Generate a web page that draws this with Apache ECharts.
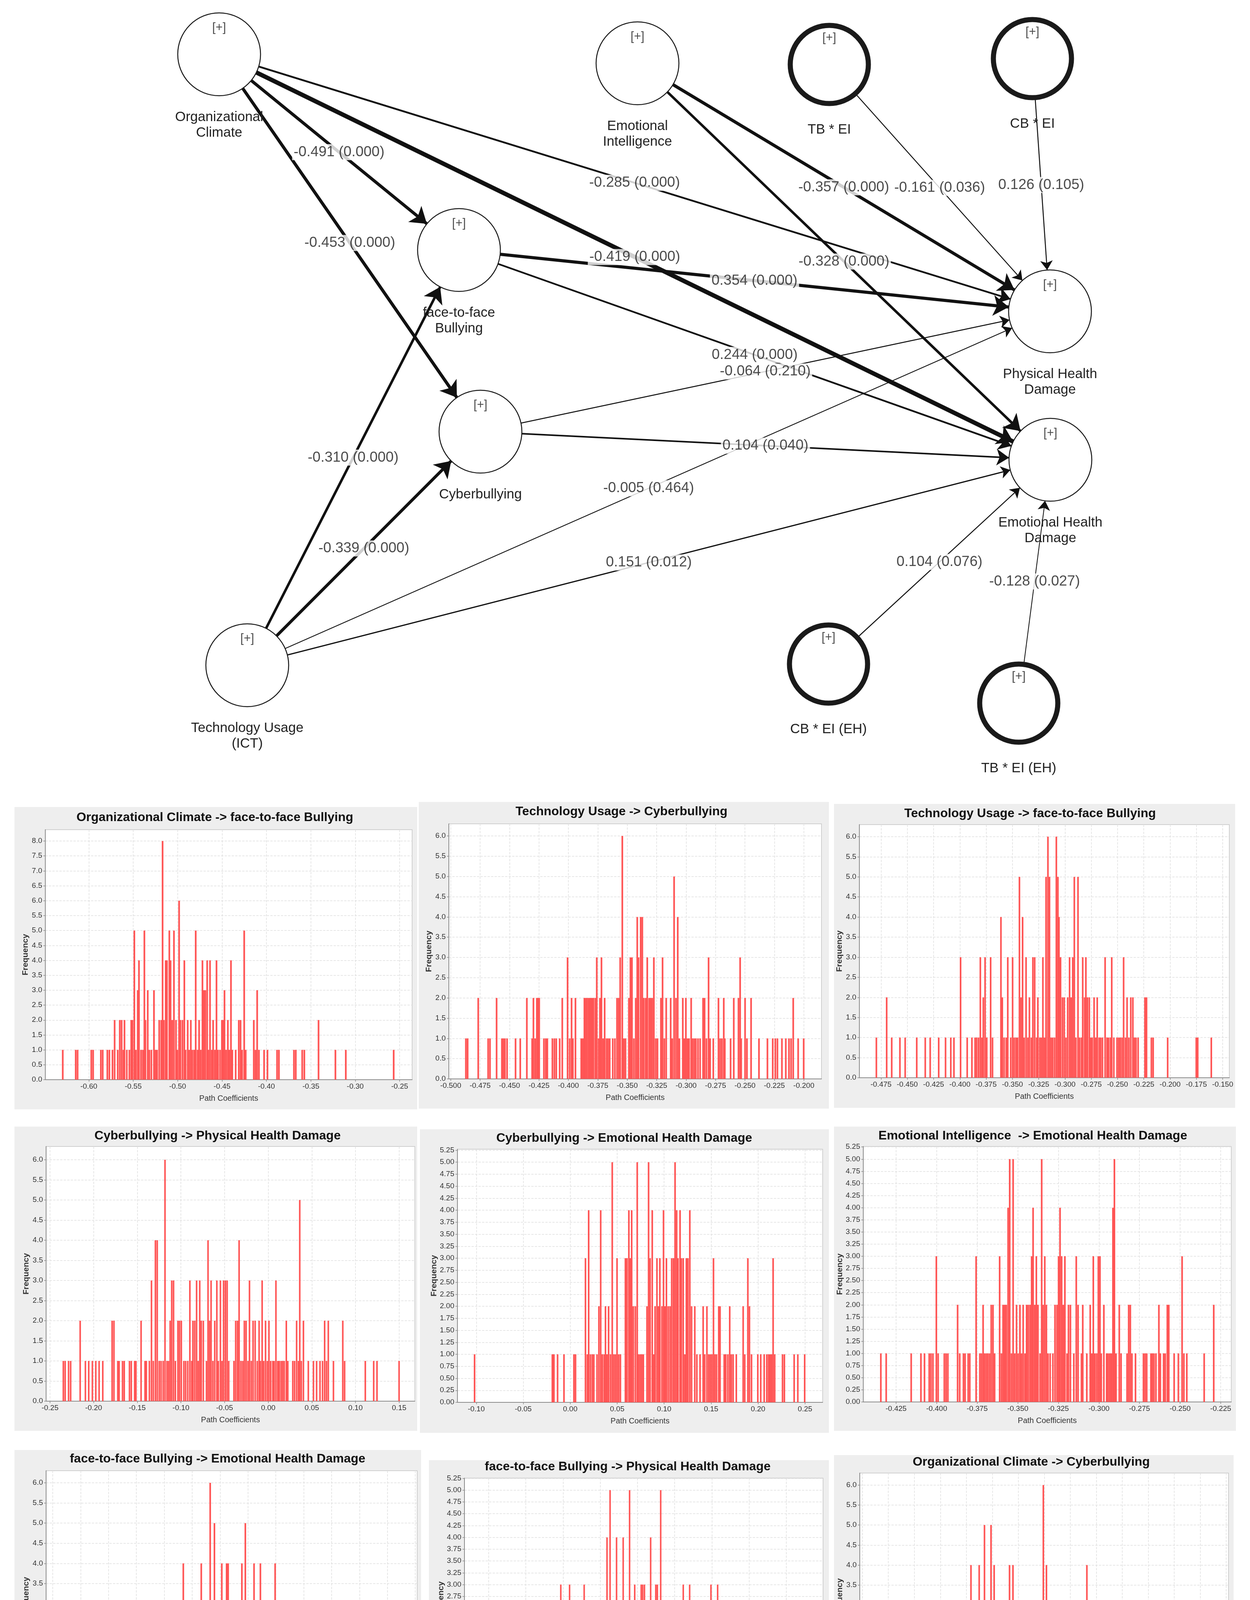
<!DOCTYPE html>
<html><head><meta charset="utf-8">
<script src="https://cdn.jsdelivr.net/npm/echarts@6/dist/echarts.min.js"></script>
<style>html,body{margin:0;padding:0;background:#fff}#c{width:3200px;height:4530px}</style>
</head><body><div id="c"></div>
<script>
// ================= PATH DIAGRAM DATA =================
const nodeNames = ['Organizational\nClimate','Emotional\nIntelligence','TB * EI','CB * EI','face-to-face\nBullying','Cyberbullying','Physical Health\nDamage','Emotional Health\nDamage','Technology Usage\n(ICT)','CB * EI (EH)','TB * EI (EH)'];
const nodeX = [561, 1632, 2123, 2643, 1175, 1230, 2688, 2689, 633, 2121, 2608];
const nodeY = [139, 162, 165, 150, 640, 1105, 797, 1177, 1703, 1700, 1800];
const nodeModerator = [false, false, true, true, false, false, false, false, false, true, true];

const edgeFrom = [0, 0, 0, 0, 1, 1, 2, 3, 4, 4, 5, 5, 8, 8, 8, 8, 9, 10];
const edgeTo   = [4, 5, 6, 7, 6, 7, 6, 6, 6, 7, 6, 7, 4, 5, 6, 7, 7, 7];
const edgeCoef = [-0.491, -0.453, -0.285, -0.419, -0.357, -0.328, -0.161, 0.126, 0.354, 0.244, -0.064, 0.104, -0.310, -0.339, -0.005, 0.151, 0.104, -0.128];
const edgeP    = [0.000, 0.000, 0.000, 0.000, 0.000, 0.000, 0.036, 0.105, 0.000, 0.000, 0.210, 0.040, 0.000, 0.000, 0.464, 0.012, 0.076, 0.027];
const edgeWidth = [8, 8, 4.5, 11, 8, 6.5, 2.5, 2.5, 8, 4.5, 2.5, 4, 6.5, 7.5, 2, 3, 2.5, 2];

// ================= HISTOGRAM DATA =================
const histTitles = [
  'Organizational Climate -> face-to-face Bullying',
  'Technology Usage -> Cyberbullying',
  'Technology Usage -> face-to-face Bullying',
  'Cyberbullying -> Physical Health Damage',
  'Cyberbullying -> Emotional Health Damage',
  'Emotional Intelligence  -> Emotional Health Damage',
  'face-to-face Bullying -> Emotional Health Damage',
  'face-to-face Bullying -> Physical Health Damage',
  'Organizational Climate -> Cyberbullying'
];

const hist1 = [[-0.6292,1],[-0.6146,1],[-0.6125,1],[-0.5971,1],[-0.5950,1],[-0.5863,1],[-0.5842,1],[-0.5790,1],[-0.5767,1],[-0.5732,1],[-0.5708,2],[-0.5673,1],[-0.5650,2],[-0.5629,2],[-0.5609,1],[-0.5597,2],[-0.5571,1],[-0.5542,1],[-0.5521,2],[-0.5507,2],[-0.5486,5],[-0.5469,1],[-0.5448,3],[-0.5434,4],[-0.5411,1],[-0.5390,1],[-0.5373,5],[-0.5361,2],[-0.5335,3],[-0.5317,1],[-0.5294,1],[-0.5265,3],[-0.5247,1],[-0.5230,1],[-0.5206,2],[-0.5183,2],[-0.5168,8],[-0.5154,2],[-0.5133,4],[-0.5119,4],[-0.5092,5],[-0.5078,4],[-0.5060,2],[-0.5040,5],[-0.5017,2],[-0.5002,1],[-0.4982,6],[-0.4967,2],[-0.4944,2],[-0.4923,4],[-0.4909,1],[-0.4885,2],[-0.4868,1],[-0.4850,2],[-0.4833,1],[-0.4812,1],[-0.4795,5],[-0.4774,1],[-0.4757,2],[-0.4739,1],[-0.4719,4],[-0.4704,3],[-0.4687,3],[-0.4666,4],[-0.4652,1],[-0.4634,4],[-0.4614,1],[-0.4599,2],[-0.4579,1],[-0.4561,4],[-0.4544,1],[-0.4521,1],[-0.4500,2],[-0.4486,2],[-0.4471,3],[-0.4453,1],[-0.4433,2],[-0.4416,1],[-0.4398,4],[-0.4383,1],[-0.4345,1],[-0.4310,2],[-0.4290,2],[-0.4273,1],[-0.4249,5],[-0.4232,1],[-0.4141,2],[-0.4121,1],[-0.4103,3],[-0.4083,1],[-0.4025,1],[-0.3987,1],[-0.3879,1],[-0.3858,1],[-0.3689,1],[-0.3668,1],[-0.3596,1],[-0.3572,1],[-0.3412,2],[-0.3222,1],[-0.3105,1],[-0.2566,1]];

const hist2 = [[-0.4870,1],[-0.4855,1],[-0.4765,2],[-0.4681,1],[-0.4665,1],[-0.4609,2],[-0.4564,1],[-0.4551,1],[-0.4538,1],[-0.4520,1],[-0.4448,1],[-0.4408,1],[-0.4352,2],[-0.4307,1],[-0.4296,2],[-0.4281,1],[-0.4267,2],[-0.4256,2],[-0.4247,2],[-0.4207,1],[-0.4191,1],[-0.4178,1],[-0.4135,1],[-0.4118,1],[-0.4102,1],[-0.4073,1],[-0.4051,2],[-0.4006,3],[-0.3988,1],[-0.3972,2],[-0.3961,1],[-0.3939,2],[-0.3890,1],[-0.3876,1],[-0.3863,2],[-0.3854,2],[-0.3841,2],[-0.3827,2],[-0.3814,2],[-0.3800,2],[-0.3787,2],[-0.3771,2],[-0.3758,3],[-0.3742,1],[-0.3731,2],[-0.3718,3],[-0.3704,1],[-0.3691,2],[-0.3675,1],[-0.3662,1],[-0.3648,1],[-0.3622,1],[-0.3604,1],[-0.3586,2],[-0.3572,2],[-0.3559,3],[-0.3541,6],[-0.3528,1],[-0.3514,1],[-0.3485,2],[-0.3472,3],[-0.3459,3],[-0.3443,1],[-0.3427,2],[-0.3414,4],[-0.3403,3],[-0.3385,4],[-0.3371,4],[-0.3358,2],[-0.3342,2],[-0.3329,3],[-0.3313,2],[-0.3300,2],[-0.3287,2],[-0.3273,3],[-0.3257,1],[-0.3242,1],[-0.3213,2],[-0.3199,3],[-0.3184,1],[-0.3168,2],[-0.3130,2],[-0.3117,1],[-0.3101,5],[-0.3085,2],[-0.3070,4],[-0.3056,1],[-0.3027,2],[-0.3014,1],[-0.3001,2],[-0.2987,1],[-0.2974,1],[-0.2956,2],[-0.2943,1],[-0.2929,1],[-0.2916,1],[-0.2898,1],[-0.2880,1],[-0.2855,2],[-0.2842,2],[-0.2826,1],[-0.2808,3],[-0.2795,1],[-0.2768,1],[-0.2724,2],[-0.2710,1],[-0.2695,1],[-0.2679,2],[-0.2670,1],[-0.2621,1],[-0.2594,2],[-0.2554,2],[-0.2540,3],[-0.2531,1],[-0.2498,2],[-0.2482,1],[-0.2447,2],[-0.2380,1],[-0.2308,1],[-0.2263,1],[-0.2241,1],[-0.2223,1],[-0.2185,1],[-0.2152,1],[-0.2125,1],[-0.2107,1],[-0.2089,2],[-0.2047,1],[-0.2000,1]];

const hist3 = [[-0.4793,1],[-0.4695,2],[-0.4647,1],[-0.4569,1],[-0.4519,1],[-0.4409,1],[-0.4328,1],[-0.4281,1],[-0.4200,1],[-0.4135,1],[-0.4085,1],[-0.4055,1],[-0.3992,3],[-0.3929,1],[-0.3884,1],[-0.3854,1],[-0.3839,1],[-0.3821,1],[-0.3804,3],[-0.3789,1],[-0.3776,2],[-0.3759,3],[-0.3743,1],[-0.3706,3],[-0.3688,1],[-0.3608,4],[-0.3595,2],[-0.3578,1],[-0.3558,1],[-0.3543,3],[-0.3515,1],[-0.3497,3],[-0.3482,1],[-0.3465,1],[-0.3450,1],[-0.3432,5],[-0.3417,2],[-0.3402,4],[-0.3387,1],[-0.3369,3],[-0.3352,1],[-0.3337,2],[-0.3319,1],[-0.3304,3],[-0.3287,3],[-0.3269,1],[-0.3257,2],[-0.3239,1],[-0.3224,1],[-0.3209,3],[-0.3194,1],[-0.3179,5],[-0.3161,6],[-0.3146,5],[-0.3131,1],[-0.3116,1],[-0.3098,1],[-0.3081,6],[-0.3066,5],[-0.3056,4],[-0.3041,3],[-0.3023,2],[-0.3006,2],[-0.2990,1],[-0.2973,2],[-0.2955,3],[-0.2940,2],[-0.2925,3],[-0.2910,5],[-0.2895,1],[-0.2875,5],[-0.2860,1],[-0.2842,1],[-0.2830,3],[-0.2812,2],[-0.2800,3],[-0.2785,2],[-0.2767,2],[-0.2755,1],[-0.2740,1],[-0.2722,2],[-0.2707,1],[-0.2692,2],[-0.2674,1],[-0.2659,1],[-0.2642,1],[-0.2617,3],[-0.2599,1],[-0.2584,1],[-0.2566,1],[-0.2554,3],[-0.2534,1],[-0.2504,1],[-0.2488,1],[-0.2473,1],[-0.2456,1],[-0.2441,3],[-0.2423,1],[-0.2408,2],[-0.2391,1],[-0.2373,2],[-0.2353,2],[-0.2338,1],[-0.2323,1],[-0.2303,1],[-0.2238,2],[-0.2223,2],[-0.2177,1],[-0.2160,1],[-0.2022,1],[-0.1750,1],[-0.1736,1],[-0.1607,1]];

const hist4 = [[-0.2346,1],[-0.2325,1],[-0.2286,1],[-0.2262,1],[-0.2153,2],[-0.2093,1],[-0.2055,1],[-0.2013,1],[-0.1974,1],[-0.1936,1],[-0.1894,1],[-0.1787,2],[-0.1766,2],[-0.1722,1],[-0.1707,1],[-0.1668,1],[-0.1648,1],[-0.1588,1],[-0.1567,1],[-0.1529,1],[-0.1514,1],[-0.1455,2],[-0.1410,1],[-0.1395,1],[-0.1360,1],[-0.1336,3],[-0.1315,1],[-0.1291,4],[-0.1270,4],[-0.1247,1],[-0.1226,1],[-0.1202,1],[-0.1181,6],[-0.1158,1],[-0.1140,1],[-0.1122,2],[-0.1104,3],[-0.1083,3],[-0.1062,1],[-0.1033,2],[-0.1015,2],[-0.0994,2],[-0.0965,1],[-0.0944,1],[-0.0920,1],[-0.0896,3],[-0.0875,1],[-0.0861,2],[-0.0840,2],[-0.0819,3],[-0.0801,1],[-0.0783,3],[-0.0766,2],[-0.0742,2],[-0.0706,1],[-0.0688,4],[-0.0670,2],[-0.0653,3],[-0.0632,1],[-0.0611,2],[-0.0587,3],[-0.0570,1],[-0.0546,3],[-0.0528,1],[-0.0510,3],[-0.0489,3],[-0.0469,3],[-0.0451,1],[-0.0391,1],[-0.0371,2],[-0.0350,2],[-0.0332,4],[-0.0311,1],[-0.0290,1],[-0.0272,2],[-0.0252,2],[-0.0231,1],[-0.0213,3],[-0.0192,1],[-0.0172,2],[-0.0148,2],[-0.0124,1],[-0.0103,2],[-0.0088,1],[-0.0068,3],[-0.0050,1],[-0.0029,2],[-0.0008,1],[0.0010,2],[0.0030,1],[0.0054,1],[0.0069,1],[0.0090,3],[0.0111,1],[0.0128,1],[0.0149,1],[0.0167,1],[0.0185,1],[0.0209,2],[0.0226,1],[0.0283,1],[0.0304,1],[0.0327,2],[0.0348,1],[0.0363,5],[0.0381,1],[0.0405,2],[0.0461,1],[0.0520,1],[0.0556,1],[0.0595,1],[0.0624,1],[0.0648,2],[0.0669,1],[0.0690,2],[0.0749,1],[0.0856,2],[0.0877,1],[0.1114,1],[0.1210,1],[0.1248,1],[0.1501,1]];

const hist5 = [[-0.1017,1],[-0.0189,1],[-0.0172,1],[-0.0133,1],[-0.0065,1],[0.0041,1],[0.0058,1],[0.0164,3],[0.0184,1],[0.0198,4],[0.0217,1],[0.0237,1],[0.0253,1],[0.0287,1],[0.0307,2],[0.0326,4],[0.0343,1],[0.0363,1],[0.0377,2],[0.0393,1],[0.0410,2],[0.0430,1],[0.0449,5],[0.0466,1],[0.0483,1],[0.0500,3],[0.0517,1],[0.0536,1],[0.0589,3],[0.0606,3],[0.0626,4],[0.0642,3],[0.0656,4],[0.0673,2],[0.0695,2],[0.0715,5],[0.0729,1],[0.0746,1],[0.0763,1],[0.0780,1],[0.0819,2],[0.0836,5],[0.0852,3],[0.0875,4],[0.0889,1],[0.0905,2],[0.0925,3],[0.0942,2],[0.0956,3],[0.0978,2],[0.0995,4],[0.1009,2],[0.1026,3],[0.1045,2],[0.1065,2],[0.1082,3],[0.1101,3],[0.1118,5],[0.1135,4],[0.1149,3],[0.1171,4],[0.1185,3],[0.1205,3],[0.1222,1],[0.1238,3],[0.1255,3],[0.1275,4],[0.1294,2],[0.1328,2],[0.1350,1],[0.1384,1],[0.1417,2],[0.1434,1],[0.1457,2],[0.1476,1],[0.1493,1],[0.1510,1],[0.1527,3],[0.1543,1],[0.1560,1],[0.1583,2],[0.1597,2],[0.1641,1],[0.1658,1],[0.1680,1],[0.1700,2],[0.1717,1],[0.1736,1],[0.1770,1],[0.1843,2],[0.1860,1],[0.1893,3],[0.1910,2],[0.1932,1],[0.1999,1],[0.2030,1],[0.2067,1],[0.2095,1],[0.2114,1],[0.2128,1],[0.2145,1],[0.2162,3],[0.2179,1],[0.2262,1],[0.2282,1],[0.2386,1],[0.2425,1],[0.2498,1]];

const hist6 = [[-0.4343,1],[-0.4310,1],[-0.4156,1],[-0.4096,1],[-0.4074,1],[-0.4045,1],[-0.4034,1],[-0.4022,1],[-0.4001,3],[-0.3990,1],[-0.3952,1],[-0.3941,1],[-0.3930,1],[-0.3870,2],[-0.3857,1],[-0.3834,1],[-0.3824,1],[-0.3805,1],[-0.3795,1],[-0.3756,3],[-0.3733,1],[-0.3723,1],[-0.3713,2],[-0.3704,1],[-0.3694,1],[-0.3684,1],[-0.3673,1],[-0.3663,2],[-0.3652,2],[-0.3642,1],[-0.3611,3],[-0.3600,1],[-0.3590,2],[-0.3580,2],[-0.3570,2],[-0.3559,4],[-0.3549,5],[-0.3538,1],[-0.3528,5],[-0.3518,1],[-0.3507,2],[-0.3497,1],[-0.3486,2],[-0.3476,1],[-0.3466,2],[-0.3455,1],[-0.3445,2],[-0.3435,2],[-0.3424,2],[-0.3414,3],[-0.3405,4],[-0.3395,2],[-0.3385,3],[-0.3375,2],[-0.3362,1],[-0.3352,5],[-0.3343,2],[-0.3333,3],[-0.3323,2],[-0.3313,1],[-0.3300,1],[-0.3283,1],[-0.3270,2],[-0.3258,2],[-0.3248,3],[-0.3239,4],[-0.3229,3],[-0.3219,2],[-0.3209,3],[-0.3196,1],[-0.3187,2],[-0.3175,2],[-0.3154,1],[-0.3139,3],[-0.3128,2],[-0.3107,1],[-0.3099,2],[-0.3074,1],[-0.3053,2],[-0.3043,1],[-0.3034,3],[-0.3024,1],[-0.3013,1],[-0.3003,3],[-0.2993,3],[-0.2985,1],[-0.2969,2],[-0.2952,1],[-0.2943,1],[-0.2933,1],[-0.2923,1],[-0.2913,4],[-0.2904,5],[-0.2894,1],[-0.2874,2],[-0.2863,1],[-0.2826,1],[-0.2816,2],[-0.2806,2],[-0.2796,1],[-0.2774,1],[-0.2725,1],[-0.2715,1],[-0.2705,1],[-0.2679,1],[-0.2670,1],[-0.2660,1],[-0.2648,1],[-0.2630,2],[-0.2621,1],[-0.2601,1],[-0.2591,1],[-0.2578,2],[-0.2569,2],[-0.2536,1],[-0.2510,1],[-0.2487,3],[-0.2476,1],[-0.2458,1],[-0.2351,1],[-0.2292,2]];

const hist7 = [[0.0849,1],[0.1122,1],[0.1207,1],[0.1223,1],[0.1306,1],[0.1318,2],[0.1389,1],[0.1406,2],[0.1420,1],[0.1436,1],[0.1453,1],[0.1496,1],[0.1531,1],[0.1543,2],[0.1560,1],[0.1571,1],[0.1619,1],[0.1633,2],[0.1649,1],[0.1709,1],[0.1756,1],[0.1768,2],[0.1784,3],[0.1799,2],[0.1815,1],[0.1860,1],[0.1874,2],[0.1889,1],[0.1905,1],[0.1922,4],[0.1936,1],[0.1955,1],[0.1969,1],[0.1993,1],[0.2007,1],[0.2021,1],[0.2035,1],[0.2052,2],[0.2068,1],[0.2083,4],[0.2099,2],[0.2111,1],[0.2125,1],[0.2139,1],[0.2149,1],[0.2163,6],[0.2173,3],[0.2187,3],[0.2201,5],[0.2220,1],[0.2239,1],[0.2267,4],[0.2281,2],[0.2296,1],[0.2310,4],[0.2324,4],[0.2338,2],[0.2352,2],[0.2367,1],[0.2381,2],[0.2395,2],[0.2409,3],[0.2423,3],[0.2438,3],[0.2447,4],[0.2461,2],[0.2478,5],[0.2490,2],[0.2506,1],[0.2520,2],[0.2537,1],[0.2556,4],[0.2570,2],[0.2584,2],[0.2599,1],[0.2613,4],[0.2627,3],[0.2644,2],[0.2658,3],[0.2672,1],[0.2686,1],[0.2703,1],[0.2717,2],[0.2731,2],[0.2745,4],[0.2760,1],[0.2774,1],[0.2797,3],[0.2814,1],[0.2828,1],[0.2845,2],[0.2876,1],[0.2887,1],[0.2902,3],[0.2916,1],[0.2932,2],[0.2947,3],[0.2961,2],[0.2975,1],[0.2991,1],[0.3022,1],[0.3039,1],[0.3100,2],[0.3117,1],[0.3129,2],[0.3143,2],[0.3176,1],[0.3200,1],[0.3223,1],[0.3240,1],[0.3257,1],[0.3313,1],[0.3370,2],[0.3384,1],[0.3429,1],[0.3531,1],[0.3564,1],[0.3669,1],[0.3851,1]];

const hist8 = [[0.1407,1],[0.1510,1],[0.1552,1],[0.1579,1],[0.1648,1],[0.1690,1],[0.1883,1],[0.1907,1],[0.1993,1],[0.2014,1],[0.2103,1],[0.2124,2],[0.2193,2],[0.2214,1],[0.2234,1],[0.2279,2],[0.2296,1],[0.2324,2],[0.2345,1],[0.2369,2],[0.2390,1],[0.2410,2],[0.2431,1],[0.2452,1],[0.2472,3],[0.2496,1],[0.2562,2],[0.2590,3],[0.2693,1],[0.2717,2],[0.2745,1],[0.2786,3],[0.2848,2],[0.2872,2],[0.2893,1],[0.2914,2],[0.2938,2],[0.2958,1],[0.2979,2],[0.3027,1],[0.3052,2],[0.3072,2],[0.3093,4],[0.3114,2],[0.3134,5],[0.3155,2],[0.3200,1],[0.3221,4],[0.3241,1],[0.3262,2],[0.3286,2],[0.3310,4],[0.3331,2],[0.3355,1],[0.3396,5],[0.3417,1],[0.3441,1],[0.3465,3],[0.3489,1],[0.3510,1],[0.3552,3],[0.3572,3],[0.3596,3],[0.3614,2],[0.3638,1],[0.3679,4],[0.3700,2],[0.3724,2],[0.3748,3],[0.3769,3],[0.3793,1],[0.3814,5],[0.3834,1],[0.3883,2],[0.3903,2],[0.3924,2],[0.3948,1],[0.3972,2],[0.3993,1],[0.4014,1],[0.4041,1],[0.4069,2],[0.4089,1],[0.4117,3],[0.4141,2],[0.4162,2],[0.4203,3],[0.4227,1],[0.4255,1],[0.4279,1],[0.4300,1],[0.4324,1],[0.4345,2],[0.4369,1],[0.4393,1],[0.4441,1],[0.4465,1],[0.4489,3],[0.4514,1],[0.4534,1],[0.4579,3],[0.4648,2],[0.4672,1],[0.4696,1],[0.4717,2],[0.4776,2],[0.4862,1],[0.4883,1],[0.4993,1],[0.5014,1],[0.5217,1],[0.5758,2]];

const hist9 = [[-0.5855,1],[-0.5822,1],[-0.5741,2],[-0.5678,1],[-0.5627,1],[-0.5612,1],[-0.5594,2],[-0.5548,1],[-0.5485,1],[-0.5449,2],[-0.5434,1],[-0.5403,1],[-0.5373,1],[-0.5340,3],[-0.5256,3],[-0.5243,1],[-0.5226,1],[-0.5208,1],[-0.5188,1],[-0.5162,2],[-0.5144,1],[-0.5129,1],[-0.5114,3],[-0.5099,1],[-0.5083,2],[-0.5066,1],[-0.5048,2],[-0.5030,2],[-0.4987,3],[-0.4972,1],[-0.4954,4],[-0.4939,3],[-0.4921,2],[-0.4906,3],[-0.4890,1],[-0.4875,4],[-0.4860,3],[-0.4840,1],[-0.4824,5],[-0.4794,1],[-0.4774,3],[-0.4761,5],[-0.4746,3],[-0.4731,4],[-0.4718,3],[-0.4703,1],[-0.4647,1],[-0.4598,1],[-0.4583,4],[-0.4565,1],[-0.4550,4],[-0.4535,2],[-0.4517,3],[-0.4502,1],[-0.4484,1],[-0.4451,2],[-0.4436,2],[-0.4421,2],[-0.4406,3],[-0.4388,1],[-0.4357,1],[-0.4340,3],[-0.4324,1],[-0.4306,1],[-0.4291,1],[-0.4273,2],[-0.4258,6],[-0.4240,1],[-0.4228,4],[-0.4210,2],[-0.4195,1],[-0.4177,2],[-0.4159,2],[-0.4144,1],[-0.4129,1],[-0.4108,1],[-0.4083,1],[-0.4068,2],[-0.4053,1],[-0.4037,1],[-0.4017,3],[-0.4002,1],[-0.3987,2],[-0.3969,1],[-0.3951,1],[-0.3936,3],[-0.3921,2],[-0.3905,2],[-0.3890,1],[-0.3875,2],[-0.3855,1],[-0.3839,4],[-0.3824,1],[-0.3804,1],[-0.3783,1],[-0.3753,1],[-0.3728,1],[-0.3712,1],[-0.3695,2],[-0.3677,1],[-0.3613,1],[-0.3570,1],[-0.3555,1],[-0.3537,1],[-0.3499,1],[-0.3342,1],[-0.3265,1],[-0.3253,1],[-0.3215,1],[-0.3199,2],[-0.3189,1],[-0.3144,1],[-0.3034,1],[-0.2874,1],[-0.2649,1]];

const histData = [hist1, hist2, hist3, hist4, hist5, hist6, hist7, hist8, hist9];
const binWidth = [0.0022, 0.00165, 0.0018, 0.0021, 0.0020, 0.00118, 0.0017, 0.0024, 0.0018];
const xRange = [[-0.649,-0.236],[-0.5016,-0.185],[-0.4956,-0.1437],[-0.2545,0.168],[-0.1201,0.2688],[-0.4452,-0.2185],[0.0691,0.4017],[0.1176,0.5993],[-0.6025,-0.2478]];
const yMax = [8.38, 6.30, 6.30, 6.33, 5.27, 5.26, 6.30, 5.255, 6.30];

// tick labels
const xTicks1 = ['-0.60','-0.55','-0.50','-0.45','-0.40','-0.35','-0.30','-0.25'];
const xTicks2 = ['-0.500','-0.475','-0.450','-0.425','-0.400','-0.375','-0.350','-0.325','-0.300','-0.275','-0.250','-0.225','-0.200'];
const xTicks3 = ['-0.475','-0.450','-0.425','-0.400','-0.375','-0.350','-0.325','-0.300','-0.275','-0.250','-0.225','-0.200','-0.175','-0.150'];
const xTicks4 = ['-0.25','-0.20','-0.15','-0.10','-0.05','0.00','0.05','0.10','0.15'];
const xTicks5 = ['-0.10','-0.05','0.00','0.05','0.10','0.15','0.20','0.25'];
const xTicks6 = ['-0.425','-0.400','-0.375','-0.350','-0.325','-0.300','-0.275','-0.250','-0.225'];
const xTicks7 = ['0.075','0.100','0.125','0.150','0.175','0.200','0.225','0.250','0.275','0.300','0.325','0.350','0.375','0.400'];
const xTicks8 = ['0.15','0.20','0.25','0.30','0.35','0.40','0.45','0.50','0.55'];
const xTicks9 = ['-0.600','-0.575','-0.550','-0.525','-0.500','-0.475','-0.450','-0.425','-0.400','-0.375','-0.350','-0.325','-0.300','-0.275','-0.250'];
const yTicks8  = ['0.0','0.5','1.0','1.5','2.0','2.5','3.0','3.5','4.0','4.5','5.0','5.5','6.0','6.5','7.0','7.5','8.0'];
const yTicks6  = ['0.0','0.5','1.0','1.5','2.0','2.5','3.0','3.5','4.0','4.5','5.0','5.5','6.0'];
const yTicks525 = ['0.00','0.25','0.50','0.75','1.00','1.25','1.50','1.75','2.00','2.25','2.50','2.75','3.00','3.25','3.50','3.75','4.00','4.25','4.50','4.75','5.00','5.25'];
const xTicksAll = [xTicks1, xTicks2, xTicks3, xTicks4, xTicks5, xTicks6, xTicks7, xTicks8, xTicks9];
const yTicksAll = [yTicks8, yTicks6, yTicks6, yTicks6, yTicks525, yTicks525, yTicks6, yTicks525, yTicks6];

// ================= LAYOUT (pixels) =================
const panelBg = [[37,2066,1031,774],[1072,2053,1050,785],[2135,2058,1027,778],[37,2884,1031,779],[1075,2891,1047,777],[2135,2884,1029,779],[37,3712,1041,778],[1098,3738,1024,756],[2135,3725,1023,768]];
const plotRect = [[116,2124,1055,2764],[1149,2109,2103,2762],[2200,2111,3147,2759],[118,2935,1062,3587],[1171,2942,2106,3590],[2210,2935,3152,3589],[118,3765,1068,4415],[1189,3784,2107,4419],[2201,3771,3145,4416]];
const titlePos = [[550,2093],[1591,2078],[2637,2083],[557,2908],[1598,2914],[2644,2908],[557,3735],[1607,3755],[2640,3743]];

const FONT = '"Liberation Sans", Arial, Helvetica, sans-serif';
const chart = echarts.init(document.getElementById('c'), null, {renderer: 'canvas', width: 3200, height: 4530});

const grids = [{left: 0, top: 0, width: 3200, height: 2060, show: false, containLabel: false, outerBoundsMode: 'none'}];
const xAxes = [{type: 'value', gridIndex: 0, min: 0, max: 3200, show: false}];
const yAxes = [{type: 'value', gridIndex: 0, min: 0, max: 2060, inverse: true, show: false}];
const series = [];
const graphics = [];

// ---- diagram ----
series.push({
  type: 'graph', coordinateSystem: 'cartesian2d', xAxisIndex: 0, yAxisIndex: 0,
  roam: false, silent: true, animation: false, z: 2,
  data: nodeNames.map((n, i) => ({
    name: n, value: [nodeX[i], nodeY[i]],
    symbol: 'circle', symbolSize: nodeModerator[i] ? 200 : 212,
    itemStyle: {color: '#fff', borderColor: '#1a1a1a', borderWidth: nodeModerator[i] ? 13 : 2.5},
    label: {distance: nodeModerator[i] ? 41 : 34}
  })),
  label: {show: true, position: 'bottom', formatter: p => p.name, fontFamily: FONT, fontSize: 35, lineHeight: 40, color: '#222', align: 'center'},
  links: edgeFrom.map((f, i) => {
    const w = edgeWidth[i];
    const s = w >= 6.5 ? 40 : (w >= 4 ? 32 : 24);
    return {source: f, target: edgeTo[i], symbol: ['none', 'arrow'], symbolSize: [0, s],
      lineStyle: {width: w, color: '#111', opacity: 1, curveness: 0}};
  }),
  lineStyle: {color: '#111', opacity: 1},
  edgeLabel: {show: false}
});
// [+] marks inside each construct
series.push({
  type: 'scatter', xAxisIndex: 0, yAxisIndex: 0, silent: true, z: 5,
  data: nodeX.map((x, i) => [x, nodeY[i]]),
  symbolSize: 1, itemStyle: {color: 'rgba(0,0,0,0)'},
  label: {show: true, position: 'inside', offset: [0, -68], formatter: '[+]', fontFamily: FONT, fontSize: 31, color: '#222'}
});
// path coefficient labels at edge midpoints
const edgeText = edgeCoef.map((c, i) => c.toFixed(3) + ' (' + edgeP[i].toFixed(3) + ')');
series.push({
  type: 'scatter', xAxisIndex: 0, yAxisIndex: 0, silent: true, z: 6,
  data: edgeFrom.map((f, i) => [(nodeX[f] + nodeX[edgeTo[i]]) / 2, (nodeY[f] + nodeY[edgeTo[i]]) / 2]),
  symbolSize: 1, itemStyle: {color: 'rgba(0,0,0,0)'},
  label: {show: true, position: 'inside', formatter: p => edgeText[p.dataIndex], fontFamily: FONT, fontSize: 37, color: '#1e1e1e', backgroundColor: '#fff', padding: [2, 4]}
});

// ---- histograms ----
for (let k = 0; k < 9; k++) {
  const gi = k + 1;
  const r = plotRect[k];
  grids.push({left: r[0], top: r[1], width: r[2] - r[0], height: r[3] - r[1], show: true, backgroundColor: '#fff', borderColor: '#c4c4c4', borderWidth: 1.5, containLabel: false, outerBoundsMode: 'none'});
  const xl = xTicksAll[k], yl = yTicksAll[k];
  const xv = xl.map(Number), yv = yl.map(Number);
  const xmap = {}; xl.forEach(s => { xmap[Number(s).toFixed(4)] = s; });
  const ymap = {}; yl.forEach(s => { ymap[Number(s).toFixed(4)] = s; });
  xAxes.push({
    type: 'value', gridIndex: gi, min: xRange[k][0], max: xRange[k][1],
    axisLine: {show: true, onZero: false, lineStyle: {color: '#8c8c8c', width: 2}},
    axisTick: {show: true, length: 5, customValues: xv, lineStyle: {color: '#8c8c8c', width: 1.5}},
    axisLabel: {show: true, customValues: xv, formatter: v => xmap[Number(v).toFixed(4)] || '', fontFamily: FONT, fontSize: 19, color: '#333', margin: 8},
    splitLine: {show: true, lineStyle: {color: '#e0e0e0', width: 1.5, type: 'dashed'}},
    name: 'Path Coefficients', nameLocation: 'middle', nameGap: 38,
    nameTextStyle: {fontFamily: FONT, fontSize: 20, color: '#333'}
  });
  yAxes.push({
    type: 'value', gridIndex: gi, min: 0, max: yMax[k],
    axisLine: {show: true, onZero: false, lineStyle: {color: '#8c8c8c', width: 2}},
    axisTick: {show: true, length: 5, customValues: yv, lineStyle: {color: '#8c8c8c', width: 1.5}},
    axisLabel: {show: true, customValues: yv, formatter: v => ymap[Number(v).toFixed(4)] || '', fontFamily: FONT, fontSize: 19, color: '#333', margin: 8},
    splitLine: {show: true, lineStyle: {color: '#e0e0e0', width: 1.5, type: 'dashed'}},
    name: 'Frequency', nameLocation: 'middle', nameGap: 40, nameRotate: 90,
    nameTextStyle: {fontFamily: FONT, fontSize: 21, fontWeight: 'bold', color: '#333'}
  });
  const bw = binWidth[k];
  series.push({
    type: 'custom', xAxisIndex: gi, yAxisIndex: gi, clip: true, silent: true, z: 3,
    data: histData[k],
    renderItem: (params, api) => {
      const x = api.value(0), c = api.value(1);
      const p0 = api.coord([x - bw / 2, c]);
      const p1 = api.coord([x + bw / 2, 0]);
      const w = Math.max(p1[0] - p0[0] - 0.7, 2.2);
      return {type: 'rect', shape: {x: p0[0], y: p0[1], width: w, height: p1[1] - p0[1]}, style: {fill: '#ff5555'}};
    }
  });
  const b = panelBg[k];
  graphics.push({type: 'rect', z: -10, silent: true, shape: {x: b[0], y: b[1], width: b[2], height: b[3]}, style: {fill: '#eeeeee'}});
  graphics.push({type: 'text', z: 10, silent: true, x: titlePos[k][0], y: titlePos[k][1],
    style: {text: histTitles[k], fill: '#111', font: 'bold 32px ' + FONT, textAlign: 'center', textVerticalAlign: 'middle'}});
}

chart.setOption({
  animation: false,
  backgroundColor: '#ffffff',
  textStyle: {fontFamily: FONT},
  grid: grids, xAxis: xAxes, yAxis: yAxes,
  graphic: {elements: graphics},
  series: series
});
</script></body></html>
